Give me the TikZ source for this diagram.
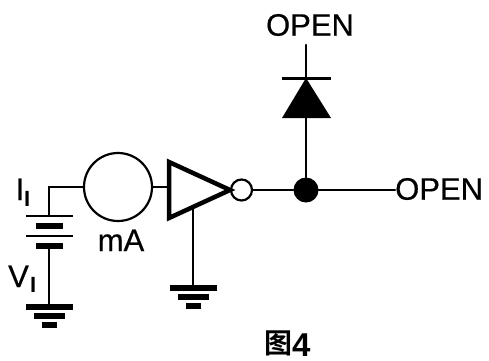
\documentclass[tikz,border=0pt]{standalone}
\usepackage{fontspec}
\setmainfont[FakeBold=0.5]{Liberation Sans}
\newfontfamily\heavyfont{Liberation Sans Bold}
\newfontfamily\cjk{Noto Sans CJK SC}[BoldFont={* Bold}]
\begin{document}
\begin{tikzpicture}[x=1pt,y=-1pt,
  wire/.style={line width=2.2pt,line cap=round},
  plate/.style={line width=#1,line cap=butt},
  lab/.style={inner sep=0pt,font=\fontsize{31}{31}\selectfont},
  sublab/.style={inner sep=0pt,font=\heavyfont\fontsize{22}{22}\selectfont}]
\useasboundingbox (0,0) rectangle (489,360);
\fill[white] (0,0) rectangle (489,360);
% nodes
\coordinate (bat) at (49,216);
\coordinate (corner) at (49,187);
\coordinate (batlow) at (49,246);
\coordinate (gnda) at (49,307);
\node[circle,draw,line width=2.2pt,minimum size=68pt,inner sep=0pt] (meter) at (118,187) {};
\coordinate (invin) at (169,187);
\coordinate (invbot) at (193,208);
\coordinate (gndb) at (193,287);
\node[circle,draw,line width=2.2pt,minimum size=21pt,inner sep=0pt] (bub) at (241.5,190) {};
\node[circle,fill=black,minimum size=25pt,inner sep=0pt] (dot) at (306,190) {};
\coordinate (dtop) at (306,45);
\coordinate (dapex) at (306,78);
\node[lab,anchor=west] (open2) at (395,189) {OPEN};
\node[lab] (open1) at (310,25) {OPEN};
% wires
\draw[wire] (meter.west) -- (corner) -- (bat);
\draw[wire] (batlow) -- (gnda);
\draw[wire] (meter.east) -- (invin);
\draw[wire] (invbot) -- (gndb);
\draw[wire] (bub.east) -- (dot);
\draw[wire] (dot) -- (dot -| open2.west);
\draw[wire] (dot) -- (dapex) -- (dtop);
% inverter
\draw[line width=4.5pt,miter limit=10] (169,162) -- (230,190) -- (169,218) -- cycle;
% diode
\fill (306,78) -- (331,118) -- (282,118) -- cycle;
\draw[wire,line cap=butt] (282,78.5) -- (331,78.5);
% battery
\draw[wire,line cap=butt] (26,216) -- (73,216);
\draw[plate=6.5pt] (36,226) -- (63,226);
\draw[wire,line cap=butt] (26,236) -- (73,236);
\draw[plate=6.5pt] (36,246) -- (63,246);
% grounds
\draw[plate=5.5pt] (26,307) -- (73,307);
\draw[plate=5.5pt] (34,316) -- (65,316);
\draw[plate=5.5pt] (42,325) -- (57,325);
\draw[plate=5.5pt] (170,288) -- (217,288);
\draw[plate=5.5pt] (178,297) -- (209,297);
\draw[plate=5.5pt] (186,306) -- (201,306);
% labels
\node[lab,anchor=base west] (ii) at (15.5,200) {I};
\node[sublab,anchor=base west] (iis) at (24,206) {I};
\node[lab,anchor=base west] (vi) at (8,287) {V};
\node[sublab,anchor=base west] (vis) at (30,292) {I};
\node[lab,anchor=base] (ma) at (121,251) {mA};
\node[inner sep=0pt,font=\cjk\bfseries\fontsize{28}{28}\selectfont,anchor=center] (fig) at (278,343) {图};
\node[inner sep=0pt,font=\heavyfont\fontsize{33}{33}\selectfont,anchor=base west] (fig4) at (292,356) {4};
\end{tikzpicture}
\end{document}
